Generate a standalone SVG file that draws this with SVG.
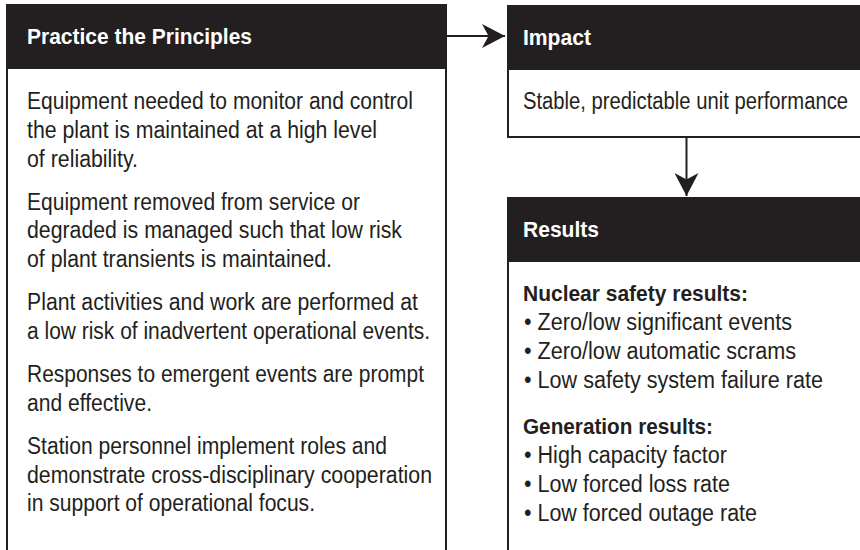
<svg xmlns="http://www.w3.org/2000/svg" width="860" height="550" viewBox="0 0 860 550">
  <style>
    .frame { fill: #ffffff; stroke: #231f20; stroke-width: 2; }
    .bar { fill: #231f20; }
    .head { font-family: "Liberation Sans", Arial, sans-serif; font-weight: bold; font-size: 22px; fill: #ffffff; }
    .body { font-family: "Liberation Sans", Arial, sans-serif; font-size: 23px; fill: #231f20; }
    .sub { font-family: "Liberation Sans", Arial, sans-serif; font-weight: bold; font-size: 22.5px; fill: #231f20; }
    .link { fill: none; stroke: #231f20; stroke-width: 2; }
  </style>
  <defs>
    <marker id="barb" viewBox="0 0 23 24" refX="23" refY="12" markerWidth="23" markerHeight="24" markerUnits="userSpaceOnUse" orient="auto">
      <path d="M0,0 L23,12 L0,24 L6.5,12 Z" fill="#231f20"/>
    </marker>
  </defs>

  <rect width="860" height="550" fill="#ffffff"/>

  <!-- Left column: principles -->
  <g id="practice">
    <rect class="frame" x="7" y="5" width="439" height="570"/>
    <rect class="bar" x="6" y="5" width="441" height="64"/>
    <text class="head" x="27" y="44" textLength="225" lengthAdjust="spacingAndGlyphs">Practice the Principles</text>
    <text class="body" x="27" y="109" textLength="386" lengthAdjust="spacingAndGlyphs">Equipment needed to monitor and control</text>
    <text class="body" x="27" y="137.8" textLength="350" lengthAdjust="spacingAndGlyphs">the plant is maintained at a high level</text>
    <text class="body" x="27" y="166.6" textLength="111" lengthAdjust="spacingAndGlyphs">of reliability.</text>
    <text class="body" x="27" y="209.6" textLength="333" lengthAdjust="spacingAndGlyphs">Equipment removed from service or</text>
    <text class="body" x="27" y="238.4" textLength="375" lengthAdjust="spacingAndGlyphs">degraded is managed such that low risk</text>
    <text class="body" x="27" y="267.2" textLength="305" lengthAdjust="spacingAndGlyphs">of plant transients is maintained.</text>
    <text class="body" x="27" y="310.2" textLength="391" lengthAdjust="spacingAndGlyphs">Plant activities and work are performed at</text>
    <text class="body" x="27" y="339" textLength="403" lengthAdjust="spacingAndGlyphs">a low risk of inadvertent operational events.</text>
    <text class="body" x="27" y="382" textLength="397" lengthAdjust="spacingAndGlyphs">Responses to emergent events are prompt</text>
    <text class="body" x="27" y="410.8" textLength="125" lengthAdjust="spacingAndGlyphs">and effective.</text>
    <text class="body" x="27" y="453.8" textLength="360" lengthAdjust="spacingAndGlyphs">Station personnel implement roles and</text>
    <text class="body" x="27" y="482.6" textLength="405" lengthAdjust="spacingAndGlyphs">demonstrate cross-disciplinary cooperation</text>
    <text class="body" x="27" y="511.4" textLength="288" lengthAdjust="spacingAndGlyphs">in support of operational focus.</text>
  </g>

  <!-- Right column, top: impact -->
  <g id="impact">
    <rect class="frame" x="508" y="6" width="380" height="131"/>
    <rect class="bar" x="507" y="6" width="380" height="64"/>
    <text class="head" x="523" y="45" textLength="68" lengthAdjust="spacingAndGlyphs">Impact</text>
    <text class="body" x="523" y="109" textLength="325" lengthAdjust="spacingAndGlyphs">Stable, predictable unit performance</text>
  </g>

  <!-- Right column, bottom: results -->
  <g id="results">
    <rect class="frame" x="508" y="198" width="380" height="380"/>
    <rect class="bar" x="507" y="198" width="380" height="64"/>
    <text class="head" x="523" y="237" textLength="76" lengthAdjust="spacingAndGlyphs">Results</text>
    <text class="sub" x="523" y="301" textLength="225" lengthAdjust="spacingAndGlyphs">Nuclear safety results:</text>
    <text class="body" x="524" y="330" textLength="268" lengthAdjust="spacingAndGlyphs">• Zero/low significant events</text>
    <text class="body" x="524" y="359" textLength="272" lengthAdjust="spacingAndGlyphs">• Zero/low automatic scrams</text>
    <text class="body" x="524" y="388" textLength="299" lengthAdjust="spacingAndGlyphs">• Low safety system failure rate</text>
    <text class="sub" x="523" y="434" textLength="190" lengthAdjust="spacingAndGlyphs">Generation results:</text>
    <text class="body" x="524" y="463" textLength="203" lengthAdjust="spacingAndGlyphs">• High capacity factor</text>
    <text class="body" x="524" y="492" textLength="206" lengthAdjust="spacingAndGlyphs">• Low forced loss rate</text>
    <text class="body" x="524" y="521" textLength="233" lengthAdjust="spacingAndGlyphs">• Low forced outage rate</text>
  </g>

  <!-- Connectors -->
  <g id="connectors">
    <path class="link" d="M447,36 L505,36" marker-end="url(#barb)"/>
    <path class="link" d="M686.5,138 L686.5,196" marker-end="url(#barb)"/>
  </g>
</svg>
